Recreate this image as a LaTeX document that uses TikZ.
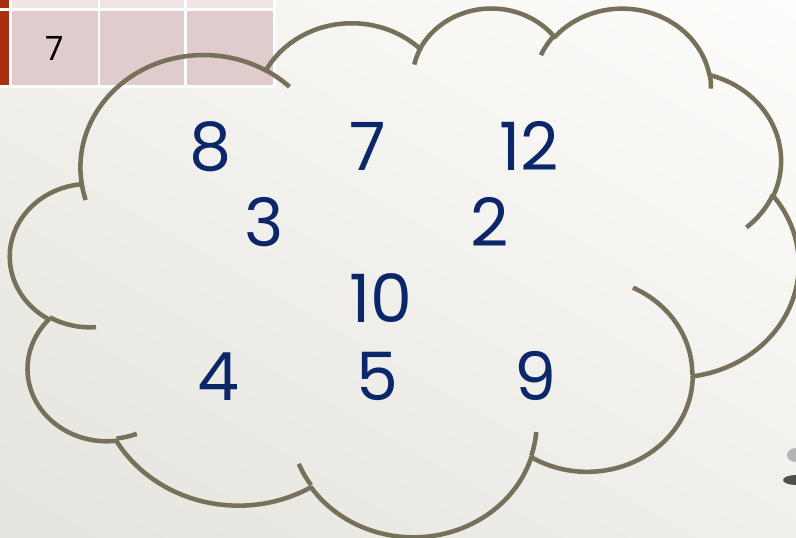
\documentclass[tikz,border=0pt]{standalone}
\usepackage{fontspec}
\usetikzlibrary{shadings}
\setmainfont{Poppins}
\definecolor{cloudline}{HTML}{77715A}
\definecolor{numblue}{HTML}{0C2769}
\definecolor{tred}{HTML}{A8300F}
\definecolor{cellA}{HTML}{EFE5E5}
\definecolor{cellB}{HTML}{E0CCCC}
\definecolor{bgUL}{HTML}{F2F1ED}
\definecolor{bgUR}{HTML}{FDFDFB}
\definecolor{bgLL}{HTML}{E5E3DD}
\definecolor{bgLR}{HTML}{F0EFEB}
\newcommand\mkarc[5]{%
  \pgfmathsetmacro\cloudts{atan2((#2)*sin(#4),(#3)*cos(#4))}%
  \pgfmathsetmacro\cloudte{atan2((#2)*sin((#4)+(#5)),(#3)*cos((#4)+(#5)))}%
  \pgfmathsetmacro\cloudtd{mod(\cloudte-\cloudts+720,360)}%
  \expandafter\xdef\csname clds#1\endcsname{\cloudts}%
  \expandafter\xdef\csname cldd#1\endcsname{\cloudtd}%
}
\begin{document}
\begin{tikzpicture}[x=0.75pt,y=-0.75pt,
  num/.style={text=numblue,font=\fontsize{50}{50}\selectfont,inner sep=0pt,anchor=base},
  cellnum/.style={text=black,font=\fontsize{25}{25}\selectfont,inner sep=0pt,anchor=base},
  cloudstroke/.style={draw=cloudline,line width=3.4pt,line join=round}]
\useasboundingbox (0,0) rectangle (796,538);
\clip (0,0) rectangle (796,538);
% background
\shade[upper left=bgUL,upper right=bgUR,lower left=bgLL,lower right=bgLR]
  (0,0) rectangle (796,538);
% table fragment
\fill[white] (0,0) rectangle (276,88);
\fill[tred] (0,0) rectangle (9,8.3);
\fill[tred] (0,11) rectangle (9,85);
\fill[cellA] (12,0) rectangle (97.7,8.3);
\fill[cellA] (100,0) rectangle (184,8.3);
\fill[cellA] (187,0) rectangle (273,8.3);
\fill[cellB] (12,11) rectangle (97.7,85);
\fill[cellB] (100,11) rectangle (184,85);
\fill[cellB] (187,11) rectangle (273,85);
\node[cellnum] (t7) at (55,61) {7};
% partial dark object at right edge
\fill[black!45,opacity=0.6] (796,455) ellipse (9 and 7);
\fill[black!80,opacity=0.85] (796,480) ellipse (13 and 5);
% cloud angles
\mkarc{A}{6.753}{9.190}{-190.4875}{123.7805}
\mkarc{B}{5.333}{7.267}{-144.1024}{89.9452}
\mkarc{C}{4.365}{5.945}{-145.8079}{99.7230}
\mkarc{D}{4.857}{6.595}{-130.9861}{117.2417}
\mkarc{E}{5.333}{7.273}{-78.7089}{109.0269}
\mkarc{F}{6.775}{9.220}{-46.2673}{130.2690}
\mkarc{G}{5.785}{7.867}{0.6250}{114.0333}
\mkarc{H}{6.752}{9.215}{22.4516}{115.1726}
\mkarc{I}{7.720}{10.543}{66.2426}{75.7110}
\mkarc{J}{4.360}{5.918}{-274.9421}{146.7356}
\mkarc{K}{4.345}{5.945}{-246.8285}{152.5189}
\mkarc{a}{4.345}{5.945}{86.7420}{26.4295}
\mkarc{b}{4.360}{5.918}{73.6105}{11.4475}
\mkarc{c}{6.752}{9.215}{137.6242}{14.0811}
\mkarc{d}{6.752}{9.215}{6.4533}{15.9984}
\mkarc{e}{5.785}{7.867}{-70.2924}{70.9174}
\mkarc{f}{5.333}{7.273}{30.3180}{27.7515}
\mkarc{g}{4.857}{6.595}{-13.7443}{14.8589}
\mkarc{h}{4.857}{6.595}{-149.1815}{18.1954}
\mkarc{i}{4.365}{5.945}{-163.4943}{17.6864}
\mkarc{j}{6.753}{9.190}{-66.7070}{12.3194}
\mkarc{k}{6.753}{9.190}{157.6544}{11.8582}
\begin{scope}[shift={(7.8pt,-5.1pt)},x=1cm,y=1cm,xscale=0.48087,yscale=-0.32253]
\draw[cloudstroke] (3.9,14.37)
  arc[start angle=\cldsA,delta angle=\clddA,x radius=6.753,y radius=9.190]
  arc[start angle=\cldsB,delta angle=\clddB,x radius=5.333,y radius=7.267]
  arc[start angle=\cldsC,delta angle=\clddC,x radius=4.365,y radius=5.945]
  arc[start angle=\cldsD,delta angle=\clddD,x radius=4.857,y radius=6.595]
  arc[start angle=\cldsE,delta angle=\clddE,x radius=5.333,y radius=7.273]
  arc[start angle=\cldsF,delta angle=\clddF,x radius=6.775,y radius=9.220]
  arc[start angle=\cldsG,delta angle=\clddG,x radius=5.785,y radius=7.867]
  arc[start angle=\cldsH,delta angle=\clddH,x radius=6.752,y radius=9.215]
  arc[start angle=\cldsI,delta angle=\clddI,x radius=7.720,y radius=10.543]
  arc[start angle=\cldsJ,delta angle=\clddJ,x radius=4.360,y radius=5.918]
  arc[start angle=\cldsK,delta angle=\clddK,x radius=4.345,y radius=5.945]
  -- cycle;
\draw[cloudstroke] (4.693,26.177) arc[start angle=\cldsa,delta angle=\cldda,x radius=4.345,y radius=5.945];
\draw[cloudstroke] (6.928,34.899) arc[start angle=\cldsb,delta angle=\clddb,x radius=4.360,y radius=5.918];
\draw[cloudstroke] (16.478,39.090) arc[start angle=\cldsc,delta angle=\clddc,x radius=6.752,y radius=9.215];
\draw[cloudstroke] (28.827,34.751) arc[start angle=\cldsd,delta angle=\clddd,x radius=6.752,y radius=9.215];
\draw[cloudstroke] (34.129,22.954) arc[start angle=\cldse,delta angle=\cldde,x radius=5.785,y radius=7.867];
\draw[cloudstroke] (41.798,15.354) arc[start angle=\cldsf,delta angle=\clddf,x radius=5.333,y radius=7.273];
\draw[cloudstroke] (38.324,5.426) arc[start angle=\cldsg,delta angle=\clddg,x radius=4.857,y radius=6.595];
\draw[cloudstroke] (29.078,3.952) arc[start angle=\cldsh,delta angle=\clddh,x radius=4.857,y radius=6.595];
\draw[cloudstroke] (22.141,4.720) arc[start angle=\cldsi,delta angle=\clddi,x radius=4.365,y radius=5.945];
\draw[cloudstroke] (14.000,5.192) arc[start angle=\cldsj,delta angle=\clddj,x radius=6.753,y radius=9.190];
\draw[cloudstroke] (4.127,15.789) arc[start angle=\cldsk,delta angle=\clddk,x radius=6.753,y radius=9.190];
\end{scope}
% numbers
\node[num] (n8) at (211,171) {8};
\node[num] (n7) at (368,171) {7};
\node[num] (n12) at (529,171) {12};
\node[num] (n3) at (264,247) {3};
\node[num] (n2) at (490,247) {2};
\node[num] (n10) at (381,323) {10};
\node[num] (n4) at (218,400) {4};
\node[num] (n5) at (377,400) {5};
\node[num] (n9) at (535,400) {9};
\end{tikzpicture}
\end{document}
